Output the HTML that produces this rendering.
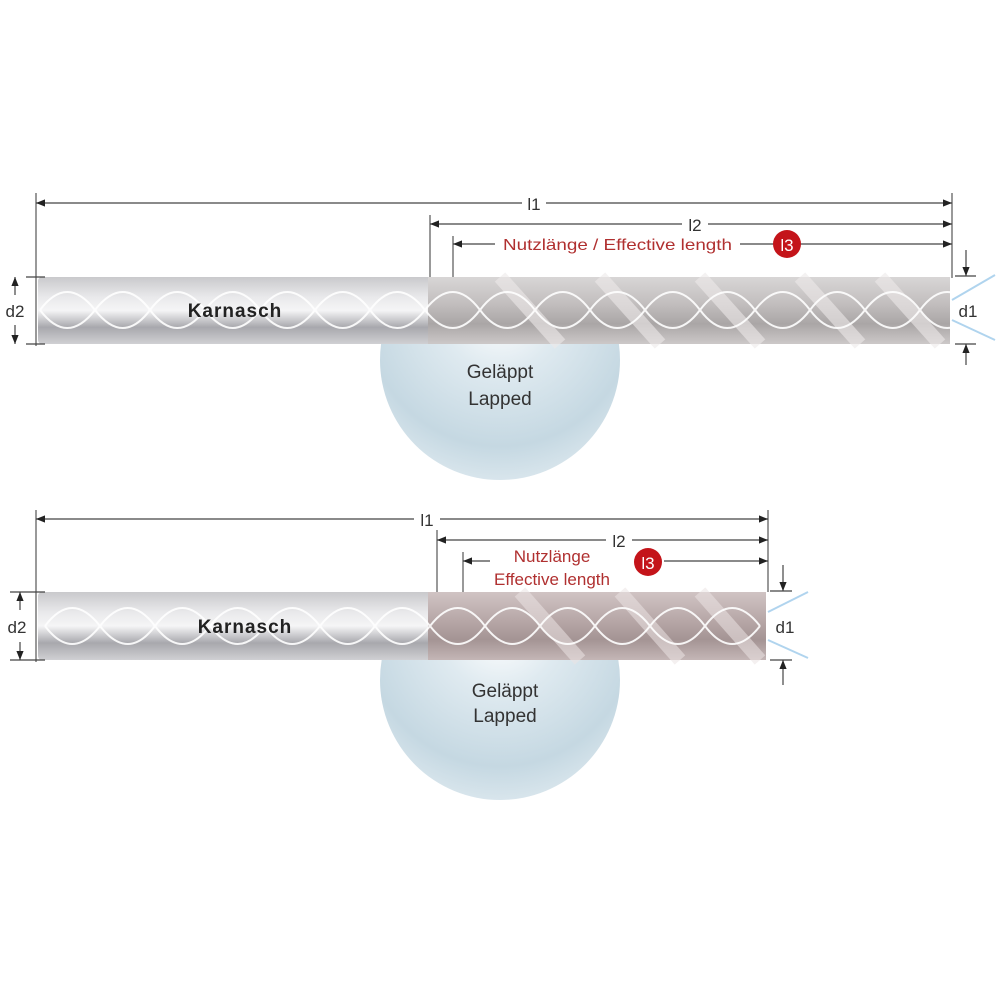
<!DOCTYPE html>
<html><head><meta charset="utf-8"><style>
html,body{margin:0;padding:0;background:#fff;width:1000px;height:1000px;overflow:hidden}
svg{display:block}
text{font-family:"Liberation Sans",sans-serif}
</style></head><body>
<svg width="1000" height="1000" viewBox="0 0 1000 1000" xmlns="http://www.w3.org/2000/svg">
<defs>
<marker id="ah" viewBox="0 0 10 10" refX="10" refY="5" markerWidth="9" markerHeight="9" orient="auto-start-reverse" markerUnits="userSpaceOnUse"><path d="M0,1 L10,5 L0,9 z" fill="#222"/></marker>
<radialGradient id="sph" cx="0.5" cy="0.3" r="0.7">
<stop offset="0" stop-color="#ffffff"/><stop offset="0.35" stop-color="#dfeaf0"/><stop offset="0.8" stop-color="#c5d8e2"/><stop offset="1" stop-color="#d8e5ec"/></radialGradient>
<linearGradient id="shank" x1="0" y1="0" x2="0" y2="1">
<stop offset="0" stop-color="#c9c9cc"/><stop offset="0.3" stop-color="#e9e9eb"/><stop offset="0.5" stop-color="#f5f5f6"/><stop offset="0.75" stop-color="#a8a8ad"/><stop offset="1" stop-color="#d0d0d3"/></linearGradient>
<linearGradient id="flute" x1="0" y1="0" x2="0" y2="1">
<stop offset="0" stop-color="#d8d6d6"/><stop offset="0.4" stop-color="#c2bebe"/><stop offset="0.7" stop-color="#aaa6a6"/><stop offset="1" stop-color="#ccc8c8"/></linearGradient>
<linearGradient id="flute2" x1="0" y1="0" x2="0" y2="1">
<stop offset="0" stop-color="#d0c4c4"/><stop offset="0.4" stop-color="#b8a8a8"/><stop offset="0.7" stop-color="#a49494"/><stop offset="1" stop-color="#c4b6b6"/></linearGradient>
<clipPath id="c1"><rect x="0" y="344" width="1000" height="200"/></clipPath>
<clipPath id="c2"><rect x="0" y="660" width="1000" height="200"/></clipPath>
</defs>

<!-- ===== TOP TOOL ===== -->
<circle cx="500" cy="360" r="120" fill="url(#sph)" clip-path="url(#c1)"/>
<g stroke="#333" stroke-width="1" fill="none">
<line x1="36" y1="193" x2="36" y2="346"/>
<line x1="430" y1="215" x2="430" y2="278"/>
<line x1="453" y1="236" x2="453" y2="278"/>
<line x1="952" y1="193" x2="952" y2="278"/>
</g>
<g stroke="#444" stroke-width="1.2">
<line x1="36" y1="203" x2="522" y2="203" marker-start="url(#ah)"/>
<line x1="546" y1="203" x2="952" y2="203" marker-end="url(#ah)"/>
<line x1="430" y1="224" x2="682" y2="224" marker-start="url(#ah)"/>
<line x1="708" y1="224" x2="952" y2="224" marker-end="url(#ah)"/>
<line x1="453" y1="244" x2="495" y2="244" marker-start="url(#ah)"/>
<line x1="740" y1="244" x2="952" y2="244" marker-end="url(#ah)"/>
</g>
<text x="534" y="210" font-size="17" text-anchor="middle" fill="#333">l1</text>
<text x="695" y="231" font-size="17" text-anchor="middle" fill="#333">l2</text>
<text x="503" y="250" font-size="16" fill="#b03030" textLength="229" lengthAdjust="spacingAndGlyphs">Nutzlänge / Effective length</text>
<circle cx="787" cy="244" r="14" fill="#c4141a"/>
<text x="787" y="251" font-size="17" text-anchor="middle" fill="#fff">l3</text>
<rect x="38" y="277" width="394" height="67" rx="4" fill="url(#shank)"/>
<rect x="428" y="277" width="522" height="67" fill="url(#flute)"/>
<g stroke="#eeeaea" stroke-width="14" opacity="0.6">
<line x1="500" y1="277" x2="560" y2="344"/><line x1="600" y1="277" x2="660" y2="344"/>
<line x1="700" y1="277" x2="760" y2="344"/><line x1="800" y1="277" x2="860" y2="344"/><line x1="880" y1="277" x2="940" y2="344"/></g>
<g fill="none" stroke="#fff" stroke-width="2" opacity="0.9">
<path d="M40,310 q27,-36 55,0 t55,0 t55,0 t55,0 t55,0 t55,0 t55,0 t55,0 t55,0 t55,0 t55,0 t55,0 t55,0 t55,0 t55,0 t55,0 t55,0"/>
<path d="M40,310 q27,36 55,0 t55,0 t55,0 t55,0 t55,0 t55,0 t55,0 t55,0 t55,0 t55,0 t55,0 t55,0 t55,0 t55,0 t55,0 t55,0 t55,0"/>
</g>
<text x="235" y="317" font-size="19" font-weight="bold" text-anchor="middle" fill="#222" letter-spacing="1">Karnasch</text>
<text x="500" y="378" font-size="19" text-anchor="middle" fill="#333">Geläppt</text>
<text x="500" y="405" font-size="19" text-anchor="middle" fill="#333">Lapped</text>
<g stroke="#444" stroke-width="1.2">
<line x1="26" y1="277" x2="45" y2="277"/><line x1="26" y1="344" x2="45" y2="344"/>
<line x1="15" y1="295" x2="15" y2="277" marker-end="url(#ah)"/>
<line x1="15" y1="325" x2="15" y2="344" marker-end="url(#ah)"/>
<line x1="966" y1="250" x2="966" y2="276" marker-end="url(#ah)"/>
<line x1="966" y1="365" x2="966" y2="344" marker-end="url(#ah)"/>
<line x1="955" y1="276" x2="976" y2="276"/><line x1="955" y1="344" x2="976" y2="344"/>
</g>
<text x="15" y="317" font-size="17" text-anchor="middle" fill="#333">d2</text>
<text x="968" y="317" font-size="17" text-anchor="middle" fill="#333">d1</text>
<g stroke="#8fc3e8" stroke-width="2" opacity="0.7"><line x1="952" y1="300" x2="995" y2="275"/><line x1="952" y1="320" x2="995" y2="340"/></g>

<!-- ===== BOTTOM TOOL ===== -->
<circle cx="500" cy="680" r="120" fill="url(#sph)" clip-path="url(#c2)"/>
<g stroke="#333" stroke-width="1" fill="none">
<line x1="36" y1="510" x2="36" y2="662"/>
<line x1="437" y1="530" x2="437" y2="592"/>
<line x1="463" y1="552" x2="463" y2="592"/>
<line x1="768" y1="510" x2="768" y2="592"/>
</g>
<g stroke="#444" stroke-width="1.2">
<line x1="36" y1="519" x2="414" y2="519" marker-start="url(#ah)"/>
<line x1="440" y1="519" x2="768" y2="519" marker-end="url(#ah)"/>
<line x1="437" y1="540" x2="606" y2="540" marker-start="url(#ah)"/>
<line x1="632" y1="540" x2="768" y2="540" marker-end="url(#ah)"/>
<line x1="463" y1="561" x2="490" y2="561" marker-start="url(#ah)"/>
<line x1="664" y1="561" x2="768" y2="561" marker-end="url(#ah)"/>
</g>
<text x="427" y="526" font-size="17" text-anchor="middle" fill="#333">l1</text>
<text x="619" y="547" font-size="17" text-anchor="middle" fill="#333">l2</text>
<text x="552" y="562" font-size="17" text-anchor="middle" fill="#b03030">Nutzlänge</text>
<text x="552" y="585" font-size="17" text-anchor="middle" fill="#b03030">Effective length</text>
<circle cx="648" cy="562" r="14" fill="#c4141a"/>
<text x="648" y="569" font-size="17" text-anchor="middle" fill="#fff">l3</text>
<rect x="38" y="592" width="394" height="68" rx="4" fill="url(#shank)"/>
<rect x="428" y="592" width="338" height="68" fill="url(#flute2)"/>
<g stroke="#ece4e4" stroke-width="14" opacity="0.55">
<line x1="520" y1="592" x2="580" y2="660"/><line x1="620" y1="592" x2="680" y2="660"/><line x1="700" y1="592" x2="760" y2="660"/></g>
<g fill="none" stroke="#fff" stroke-width="2" opacity="0.9">
<path d="M45,626 q27,-36 55,0 t55,0 t55,0 t55,0 t55,0 t55,0 t55,0 t55,0 t55,0 t55,0 t55,0 t55,0 t55,0"/>
<path d="M45,626 q27,36 55,0 t55,0 t55,0 t55,0 t55,0 t55,0 t55,0 t55,0 t55,0 t55,0 t55,0 t55,0 t55,0"/>
</g>
<text x="245" y="633" font-size="19" font-weight="bold" text-anchor="middle" fill="#222" letter-spacing="1">Karnasch</text>
<text x="505" y="697" font-size="19" text-anchor="middle" fill="#333">Geläppt</text>
<text x="505" y="722" font-size="19" text-anchor="middle" fill="#333">Lapped</text>
<g stroke="#444" stroke-width="1.2">
<line x1="10" y1="592" x2="45" y2="592"/><line x1="10" y1="660" x2="45" y2="660"/>
<line x1="20" y1="610" x2="20" y2="592" marker-end="url(#ah)"/>
<line x1="20" y1="642" x2="20" y2="660" marker-end="url(#ah)"/>
<line x1="783" y1="565" x2="783" y2="591" marker-end="url(#ah)"/>
<line x1="783" y1="685" x2="783" y2="660" marker-end="url(#ah)"/>
<line x1="770" y1="591" x2="792" y2="591"/><line x1="770" y1="660" x2="792" y2="660"/>
</g>
<text x="17" y="633" font-size="17" text-anchor="middle" fill="#333">d2</text>
<text x="785" y="633" font-size="17" text-anchor="middle" fill="#333">d1</text>
<g stroke="#8fc3e8" stroke-width="2" opacity="0.7"><line x1="768" y1="612" x2="808" y2="592"/><line x1="768" y1="640" x2="808" y2="658"/></g>
</svg>
</body></html>
